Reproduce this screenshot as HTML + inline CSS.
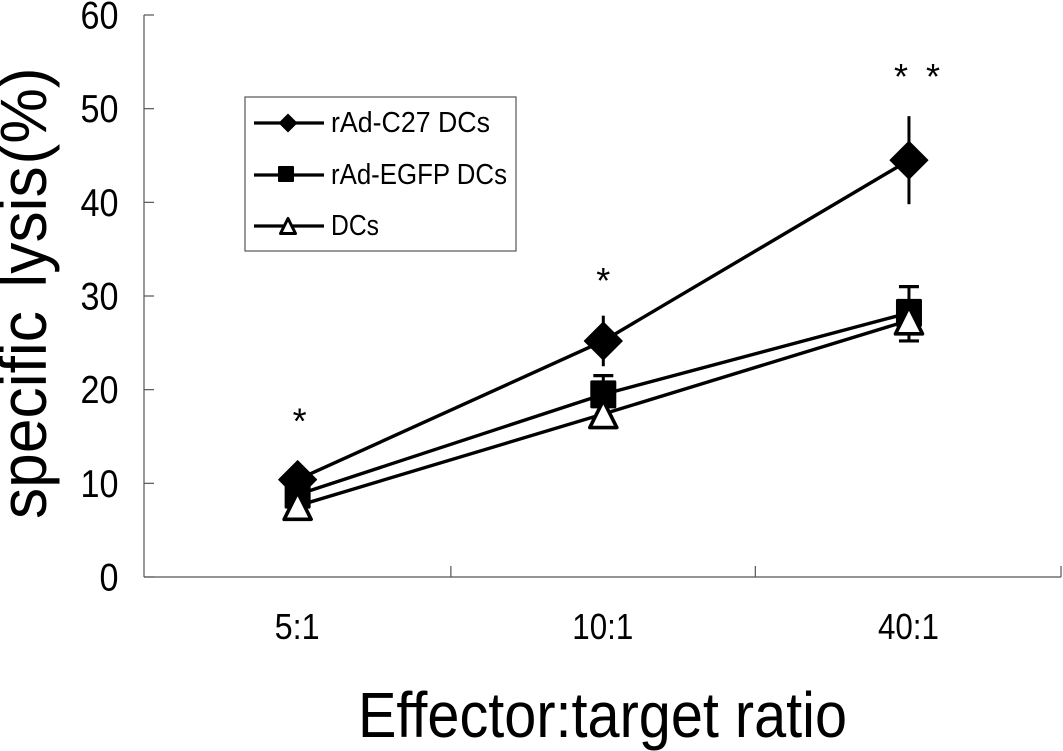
<!DOCTYPE html>
<html>
<head>
<meta charset="utf-8">
<style>
html,body{margin:0;padding:0;background:#fff}
svg{display:block}
text{font-family:"Liberation Sans",sans-serif;fill:#000}
</style>
</head>
<body>
<svg id="chart" width="1063" height="751" viewBox="0 0 1063 751" xmlns="http://www.w3.org/2000/svg"></svg>
<script>
const categories = ["5:1", "10:1", "40:1"];
const yTickLabels = [0, 10, 20, 30, 40, 50, 60];
const seriesNames = ["rAd-C27 DCs", "rAd-EGFP DCs", "DCs"];
const c27Values = [10.4, 25.2, 44.5];
const egfpValues = [8.8, 19.5, 28.2];
const dcValues = [7.6, 17.4, 27.4];
const c27Errors = [1.5, 2.7, 4.7];
const egfpErrors = [1.0, 2.0, 2.8];
const dcErrors = [0.8, 1.0, 2.2];
const significance = ["*", "*", "* *"];
const significanceValues = [16.9, 31.9, 53.7];

const svg = document.getElementById('chart');
const NS = 'http://www.w3.org/2000/svg';
const plotLeft = 144, plotRight = 1061, plotTop = 15, plotBottom = 577, yMax = 60;
const axisColor = '#555';
const band = (plotRight - plotLeft) / categories.length;
const xAt = i => plotLeft + band * (i + 0.5) + 0.8;
const yAt = v => plotBottom - (v / yMax) * (plotBottom - plotTop);

function make(tag, attrs, parent) {
  const el = document.createElementNS(NS, tag);
  for (const k in attrs) el.setAttribute(k, attrs[k]);
  (parent || svg).appendChild(el);
  return el;
}
function diamond(cx, cy, r) {
  return `${cx},${cy - r} ${cx + r},${cy} ${cx},${cy + r} ${cx - r},${cy}`;
}
function triangle(cx, cy, h, w) {
  return `${cx},${cy - h * 0.5} ${cx + w / 2},${cy + h * 0.5} ${cx - w / 2},${cy + h * 0.5}`;
}

/* axes */
const yAxis = make('line', {x1: plotLeft, x2: plotLeft, y1: plotTop, y2: plotBottom, stroke: axisColor, 'stroke-width': 1.2});


const xAxis = make('line', {x1: plotLeft, x2: plotRight, y1: plotBottom, y2: plotBottom, stroke: axisColor, 'stroke-width': 1.2});



yTickLabels.forEach(v => {
  const tick = make('line', {x1: plotLeft, x2: plotLeft + 10, y1: yAt(v), y2: yAt(v), stroke: axisColor, 'stroke-width': 1.2});
  
  
  const label = make('text', {x: 118.5, y: yAt(v) + 13.5, 'text-anchor': 'end', 'font-size': 39, textLength: v === 0 ? 19 : 38, lengthAdjust: 'spacingAndGlyphs'});
  label.textContent = v;
  
  
});

for (let i = 1; i <= categories.length; i++) {
  const x = plotLeft + band * i + (i === 1 ? 1.2 : 0);
  const tick = make('line', {x1: x, x2: x, y1: plotBottom - 11, y2: plotBottom, stroke: axisColor, 'stroke-width': 1.2});
  
  
}

categories.forEach((c, i) => {
  const label = make('text', {x: xAt(i) - 0.5, y: 639, 'text-anchor': 'middle', 'font-size': 36, textLength: c.length === 3 ? 45 : 61, lengthAdjust: 'spacingAndGlyphs'});
  label.textContent = c;
  
  
});

/* titles */
const xTitle = make('text', {x: 358, y: 737, 'font-size': 64, textLength: 489, lengthAdjust: 'spacingAndGlyphs'});
xTitle.textContent = 'Effector:target ratio';


const yTitle = make('text', {x: 0, y: 0, 'font-size': 66, 'word-spacing': 6.5, transform: 'translate(46,519) rotate(-90) scale(0.945,1)'});


yTitle.appendChild(document.createTextNode('specific lysis'));
const yTitleUnit = make('tspan', {dx: 2}, yTitle);
yTitleUnit.textContent = '(%)';

/* error bars */
function errorBars(values, errors, dir, capped, name) {
  values.forEach((v, i) => {
    const x = xAt(i), end = v + dir * errors[i];
    const bar = make('line', {x1: x, x2: x, y1: yAt(v), y2: yAt(end), stroke: '#000', 'stroke-width': 3});
    
    
    if (capped) {
      const cap = make('line', {x1: x - 10, x2: x + 10, y1: yAt(end), y2: yAt(end), stroke: '#000', 'stroke-width': 3.2});
      
      
    }
  });
}
errorBars(dcValues, dcErrors, -1, true, 'dcs-error-bar');
errorBars(egfpValues, egfpErrors, 1, true, 'egfp-error-bar');
errorBars(c27Values, c27Errors, 1, false, 'c27-error-bar-upper');
errorBars(c27Values, c27Errors, -1, false, 'c27-error-bar-lower');

/* lines */
function seriesLine(values, name) {
  const pts = values.map((v, i) => xAt(i) + ',' + yAt(v)).join(' ');
  const line = make('polyline', {points: pts, fill: 'none', stroke: '#000', 'stroke-width': 3.4});
  
  
}
seriesLine(c27Values, 'c27-line');
seriesLine(egfpValues, 'egfp-line');
seriesLine(dcValues, 'dcs-line');

/* markers */
egfpValues.forEach((v, i) => {
  const m = make('rect', {x: xAt(i) - 13, y: yAt(v) - 14, width: 26, height: 28, rx: 1.5, fill: '#000'});
  
  
});
c27Values.forEach((v, i) => {
  const m = make('polygon', {points: diamond(xAt(i), yAt(v), 19), fill: '#000', stroke: '#000', 'stroke-linejoin': 'round'});
  
  
});
dcValues.forEach((v, i) => {
  const m = make('polygon', {points: triangle(xAt(i), yAt(v), 27, 27), fill: '#fff', stroke: '#000', 'stroke-width': 3.6, 'stroke-linejoin': 'round'});
  
  
});

/* significance markers */
significance.forEach((s, i) => {
  const stars = s.split(' ');
  stars.forEach((st, j) => {
    const off = stars.length > 1 ? (j === 0 ? -8 : 24) : (i === 0 ? 2 : 0);
    const t = make('text', {x: xAt(i) + off, y: yAt(significanceValues[i]) + 15, 'text-anchor': 'middle', 'font-size': 36});
    t.textContent = st;
    
    
  });
});

/* legend */
const legend = make('g', {});


const legendBox = make('rect', {x: 245, y: 97, width: 271, height: 154, fill: '#fff', stroke: '#555', 'stroke-width': 1.2}, legend);


const legendY = [123, 175, 226];
const legendWidths = [159, 176, 48];
seriesNames.forEach((n, i) => {
  const row = make('g', {}, legend);
  
  
  make('line', {x1: 254, x2: 324, y1: legendY[i], y2: legendY[i], stroke: '#000', 'stroke-width': 3.2}, row);
  if (i === 0) make('polygon', {points: diamond(288, legendY[i], 9.5), fill: '#000'}, row);
  if (i === 1) make('rect', {x: 278, y: legendY[i] - 9, width: 16, height: 16, rx: 1, fill: '#000'}, row);
  if (i === 2) make('polygon', {points: triangle(288, legendY[i], 15, 15), fill: '#fff', stroke: '#000', 'stroke-width': 3, 'stroke-linejoin': 'round'}, row);
  const t = make('text', {x: 331, y: legendY[i] + 9, 'font-size': 29, textLength: legendWidths[i], lengthAdjust: 'spacingAndGlyphs'}, row);
  t.textContent = n;
});
</script>
</body>
</html>
